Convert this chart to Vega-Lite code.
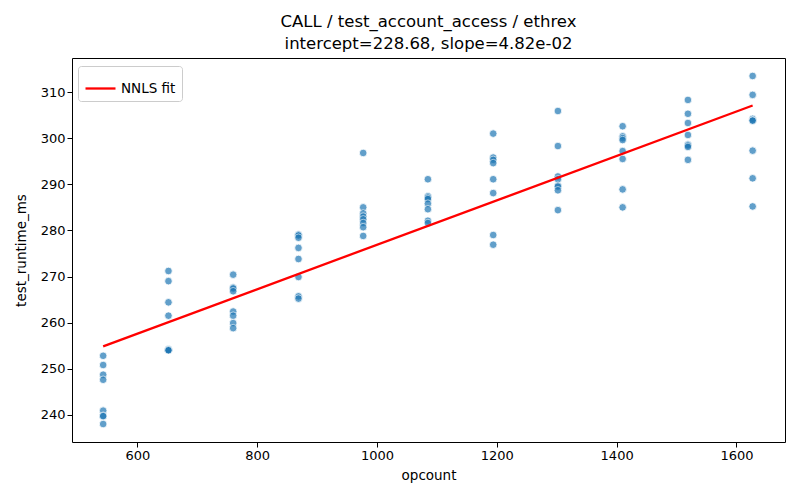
{
  "$schema": "https://vega.github.io/schema/vega-lite/v6.json",
  "description": "CALL test_account_access runtime vs opcount with NNLS fit",
  "autosize": {"type": "none"},
  "width": 713,
  "height": 384,
  "padding": {"left": 72, "top": 58, "right": 15, "bottom": 58},
  "background": "white",
  "title": {
    "text": ["CALL / test_account_access / ethrex", "intercept=228.68, slope=4.82e-02"],
    "font": "DejaVu Sans",
    "fontSize": 16.5,
    "fontWeight": "normal",
    "color": "black",
    "lineHeight": 22,
    "anchor": "middle",
    "offset": 6
  },
  "config": {
    "font": "DejaVu Sans",
    "view": {"stroke": "black", "strokeWidth": 1},
    "axis": {
      "grid": false,
      "domain": false,
      "tickColor": "black",
      "tickSize": 5,
      "labelFont": "DejaVu Sans",
      "labelFontSize": 13,
      "labelColor": "black",
      "titleFont": "DejaVu Sans",
      "titleFontSize": 13.5,
      "titleFontWeight": "normal",
      "titleColor": "black"
    }
  },
  "datasets": {
    "runs": [
      {"opcount": 543, "test_runtime_ms": 252.8},
      {"opcount": 543, "test_runtime_ms": 250.8},
      {"opcount": 543, "test_runtime_ms": 248.7},
      {"opcount": 543, "test_runtime_ms": 247.6},
      {"opcount": 543, "test_runtime_ms": 240.9},
      {"opcount": 543, "test_runtime_ms": 239.8},
      {"opcount": 543, "test_runtime_ms": 239.7},
      {"opcount": 543, "test_runtime_ms": 238.0},
      {"opcount": 652, "test_runtime_ms": 271.2},
      {"opcount": 652, "test_runtime_ms": 269.0},
      {"opcount": 652, "test_runtime_ms": 264.4},
      {"opcount": 652, "test_runtime_ms": 261.5},
      {"opcount": 652, "test_runtime_ms": 254.2},
      {"opcount": 652, "test_runtime_ms": 254.1},
      {"opcount": 652, "test_runtime_ms": 254.0},
      {"opcount": 652, "test_runtime_ms": 254.0},
      {"opcount": 760, "test_runtime_ms": 270.4},
      {"opcount": 760, "test_runtime_ms": 267.6},
      {"opcount": 760, "test_runtime_ms": 267.4},
      {"opcount": 760, "test_runtime_ms": 266.8},
      {"opcount": 760, "test_runtime_ms": 262.4},
      {"opcount": 760, "test_runtime_ms": 261.5},
      {"opcount": 760, "test_runtime_ms": 259.9},
      {"opcount": 760, "test_runtime_ms": 258.8},
      {"opcount": 869, "test_runtime_ms": 279.1},
      {"opcount": 869, "test_runtime_ms": 278.9},
      {"opcount": 869, "test_runtime_ms": 278.4},
      {"opcount": 869, "test_runtime_ms": 276.2},
      {"opcount": 869, "test_runtime_ms": 273.8},
      {"opcount": 869, "test_runtime_ms": 269.9},
      {"opcount": 869, "test_runtime_ms": 265.7},
      {"opcount": 869, "test_runtime_ms": 265.2},
      {"opcount": 977, "test_runtime_ms": 296.8},
      {"opcount": 977, "test_runtime_ms": 285.0},
      {"opcount": 977, "test_runtime_ms": 283.7},
      {"opcount": 977, "test_runtime_ms": 283.0},
      {"opcount": 977, "test_runtime_ms": 282.4},
      {"opcount": 977, "test_runtime_ms": 281.6},
      {"opcount": 977, "test_runtime_ms": 280.7},
      {"opcount": 977, "test_runtime_ms": 278.8},
      {"opcount": 1085, "test_runtime_ms": 291.1},
      {"opcount": 1085, "test_runtime_ms": 287.4},
      {"opcount": 1085, "test_runtime_ms": 287.1},
      {"opcount": 1085, "test_runtime_ms": 286.8},
      {"opcount": 1085, "test_runtime_ms": 285.8},
      {"opcount": 1085, "test_runtime_ms": 284.6},
      {"opcount": 1085, "test_runtime_ms": 282.1},
      {"opcount": 1085, "test_runtime_ms": 281.6},
      {"opcount": 1194, "test_runtime_ms": 301.0},
      {"opcount": 1194, "test_runtime_ms": 295.8},
      {"opcount": 1194, "test_runtime_ms": 295.3},
      {"opcount": 1194, "test_runtime_ms": 294.6},
      {"opcount": 1194, "test_runtime_ms": 291.1},
      {"opcount": 1194, "test_runtime_ms": 288.1},
      {"opcount": 1194, "test_runtime_ms": 279.0},
      {"opcount": 1194, "test_runtime_ms": 276.9},
      {"opcount": 1302, "test_runtime_ms": 305.9},
      {"opcount": 1302, "test_runtime_ms": 298.3},
      {"opcount": 1302, "test_runtime_ms": 291.7},
      {"opcount": 1302, "test_runtime_ms": 291.1},
      {"opcount": 1302, "test_runtime_ms": 289.7},
      {"opcount": 1302, "test_runtime_ms": 289.5},
      {"opcount": 1302, "test_runtime_ms": 288.7},
      {"opcount": 1302, "test_runtime_ms": 284.4},
      {"opcount": 1410, "test_runtime_ms": 302.6},
      {"opcount": 1410, "test_runtime_ms": 300.4},
      {"opcount": 1410, "test_runtime_ms": 300.0},
      {"opcount": 1410, "test_runtime_ms": 299.6},
      {"opcount": 1410, "test_runtime_ms": 297.2},
      {"opcount": 1410, "test_runtime_ms": 295.5},
      {"opcount": 1410, "test_runtime_ms": 288.9},
      {"opcount": 1410, "test_runtime_ms": 285.0},
      {"opcount": 1519, "test_runtime_ms": 308.3},
      {"opcount": 1519, "test_runtime_ms": 305.3},
      {"opcount": 1519, "test_runtime_ms": 303.3},
      {"opcount": 1519, "test_runtime_ms": 300.7},
      {"opcount": 1519, "test_runtime_ms": 298.6},
      {"opcount": 1519, "test_runtime_ms": 298.4},
      {"opcount": 1519, "test_runtime_ms": 298.1},
      {"opcount": 1519, "test_runtime_ms": 295.3},
      {"opcount": 1627, "test_runtime_ms": 313.5},
      {"opcount": 1627, "test_runtime_ms": 309.4},
      {"opcount": 1627, "test_runtime_ms": 304.2},
      {"opcount": 1627, "test_runtime_ms": 303.9},
      {"opcount": 1627, "test_runtime_ms": 303.8},
      {"opcount": 1627, "test_runtime_ms": 297.3},
      {"opcount": 1627, "test_runtime_ms": 291.3},
      {"opcount": 1627, "test_runtime_ms": 285.2}
    ],
    "fit": [
      {"opcount": 543, "test_runtime_ms": 254.85, "series": "NNLS fit"},
      {"opcount": 1627, "test_runtime_ms": 307.10, "series": "NNLS fit"}
    ]
  },
  "layer": [
    {
      "data": {"name": "runs"},
      "mark": {"type": "circle", "size": 58, "color": "#1f77b4", "opacity": 0.7, "stroke": "white", "strokeWidth": 0.8},
      "encoding": {
        "x": {
          "field": "opcount", "type": "quantitative", "title": "opcount",
          "scale": {"domain": [491, 1681], "nice": false, "zero": false},
          "axis": {"values": [600, 800, 1000, 1200, 1400, 1600], "format": "d", "titlePadding": 6}
        },
        "y": {
          "field": "test_runtime_ms", "type": "quantitative", "title": "test_runtime_ms",
          "scale": {"domain": [234.1, 317.4], "nice": false, "zero": false},
          "axis": {"values": [240, 250, 260, 270, 280, 290, 300, 310], "titlePadding": 12}
        }
      }
    },
    {
      "data": {"name": "fit"},
      "mark": {"type": "line", "strokeWidth": 2.3},
      "encoding": {
        "x": {"field": "opcount", "type": "quantitative"},
        "y": {"field": "test_runtime_ms", "type": "quantitative"},
        "color": {
          "field": "series", "type": "nominal",
          "scale": {"range": ["red"]},
          "legend": {
            "title": null,
            "orient": "none",
            "legendX": 6,
            "legendY": 8,
            "symbolType": "stroke",
            "symbolSize": 900,
            "symbolStrokeWidth": 2.3,
            "labelFontSize": 13.5,
            "labelFont": "DejaVu Sans",
            "labelColor": "black",
            "fillColor": "white",
            "strokeColor": "#cccccc",
            "cornerRadius": 3,
            "padding": 6
          }
        }
      }
    }
  ]
}
